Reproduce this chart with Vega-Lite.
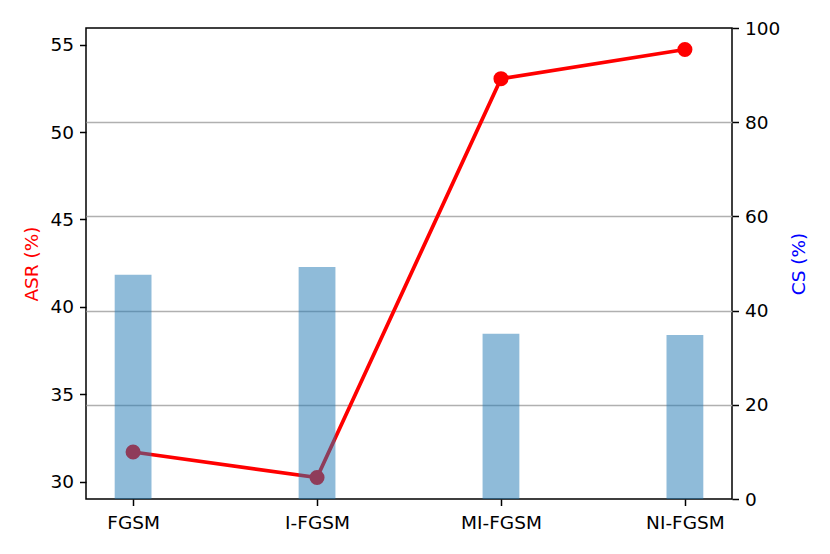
{
  "$schema": "https://vega.github.io/schema/vega-lite/v6.json",
  "width": 646,
  "height": 471,
  "autosize": {"type": "none"},
  "padding": {"left": 86, "top": 28, "right": 98, "bottom": 55},
  "background": "white",
  "data": {
    "values": [
      {"method": "FGSM", "asr": 31.69, "cs": 47.6},
      {"method": "I-FGSM", "asr": 30.23, "cs": 49.26},
      {"method": "MI-FGSM", "asr": 53.06, "cs": 35.1},
      {"method": "NI-FGSM", "asr": 54.73, "cs": 34.8}
    ]
  },
  "encoding": {
    "x": {
      "field": "method",
      "type": "nominal",
      "sort": null,
      "scale": {"type": "point", "padding": 0.256},
      "axis": {
        "title": null,
        "labelAngle": 0,
        "labelPadding": 8,
        "grid": false,
        "domain": false
      }
    }
  },
  "layer": [
    {
      "mark": {
        "type": "line",
        "color": "#ff0000",
        "strokeWidth": 3.75,
        "point": {"filled": true, "size": 227, "color": "#ff0000", "opacity": 1}
      },
      "encoding": {
        "y": {
          "field": "asr",
          "type": "quantitative",
          "scale": {"domain": [29.0, 55.96], "nice": false, "zero": false},
          "axis": {
            "orient": "left",
            "title": "ASR (%)",
            "titleColor": "#ff0000",
            "values": [30, 35, 40, 45, 50, 55],
            "grid": false,
            "domain": false,
            "labelPadding": 6,
            "titleX": -54.75,
            "titleY": 235.5,
            "titleAngle": 270,
            "titleBaseline": "middle",
            "titleAlign": "center"
          }
        }
      }
    },
    {
      "mark": {"type": "bar", "size": 36.8, "color": "#1f77b4", "opacity": 0.5},
      "encoding": {
        "y": {
          "field": "cs",
          "type": "quantitative",
          "scale": {"domain": [0, 100], "nice": false},
          "axis": {
            "orient": "right",
            "title": "CS (%)",
            "titleColor": "#0000ff",
            "values": [0, 20, 40, 60, 80, 100],
            "grid": true,
            "gridColor": "#b0b0b0",
            "gridWidth": 1.5,
            "gridOpacity": {"condition": {"test": "datum.value == 0 || datum.value == 100", "value": 0}, "value": 1},
            "domain": false,
            "labelPadding": 6,
            "titleX": 66.25,
            "titleY": 235.5,
            "titleAngle": 270,
            "titleBaseline": "middle",
            "titleAlign": "center"
          }
        }
      }
    }
  ],
  "resolve": {"scale": {"y": "independent"}},
  "config": {
    "view": {"stroke": "#000000", "strokeWidth": 1.5},
    "axis": {
      "labelFont": "DejaVu Sans",
      "labelFontSize": 18.5,
      "labelColor": "#000000",
      "titleFont": "DejaVu Sans",
      "titleFontSize": 18.5,
      "titleFontWeight": "normal",
      "tickColor": "#000000",
      "tickWidth": 1.5,
      "tickSize": 6.5
    }
  }
}
